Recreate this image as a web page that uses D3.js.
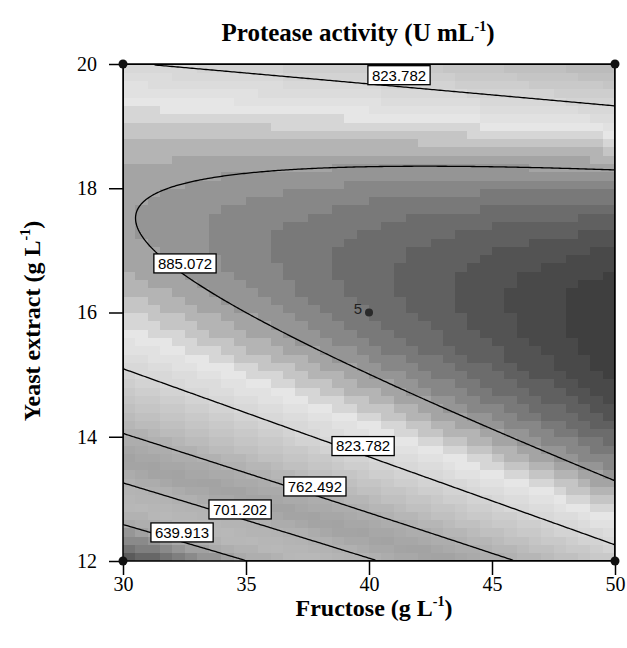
<!DOCTYPE html>
<html><head><meta charset="utf-8">
<script src="https://cdn.jsdelivr.net/npm/d3@7/dist/d3.min.js"></script>
<style>html,body{margin:0;padding:0;background:#fff}svg{display:block}</style>
</head><body>
<svg id="chart" width="627" height="648"></svg>
<script>
// ---------------- data ----------------
const fructoseRange = [30, 50];
const yeastRange = [12, 20];
const xTickValues = [30, 35, 40, 45, 50];
const yTickValues = [12, 14, 16, 18, 20];
const codedCenter = [40, 16];
const codedStep = [10, 4];
// quadratic response-surface model in coded units: intercept, F, Y, F^2, Y^2, F*Y
const modelCoefficients = [908.0, 43.3, 53.4, -5.0, -157.6, -69.7];
const contourLevels = [639.913, 701.202, 762.492, 823.782, 885.072];
const labelTexts = ["639.913", "701.202", "762.492", "823.782", "823.782", "885.072"];
const labelFructose = [32.4, 34.76, 37.8, 39.76, 41.22, 32.52];
const labelYeast = [12.46, 12.83, 13.2, 13.85, 19.82, 16.79];
const designFructose = [40];
const designYeast = [16];
const designLabels = ["5"];
// grey ramp (fraction of response range -> grey level)
const grayT = [0, 0.08, 0.17, 0.25, 0.33, 0.42, 0.5, 0.67, 0.74, 0.83, 0.89, 0.95, 1];
const grayV = [72, 120, 168, 185, 178, 162, 175, 214, 230, 158, 118, 82, 58];

// ---------------- chart ----------------
const svg = d3.select("#chart");
const m = {left: 123, right: 615, top: 64, bottom: 561};
const x = d3.scaleLinear().domain(fructoseRange).range([m.left, m.right]);
const y = d3.scaleLinear().domain(yeastRange).range([m.bottom, m.top]);

function response(F, Y) {
  const a = (F - codedCenter[0]) / codedStep[0], b = (Y - codedCenter[1]) / codedStep[1];
  const c = modelCoefficients;
  return c[0] + c[1]*a + c[2]*b + c[3]*a*a + c[4]*b*b + c[5]*a*b;
}
const lvStep = contourLevels[1] - contourLevels[0];
const zMin = contourLevels[0] - lvStep, zMax = contourLevels[contourLevels.length - 1] + lvStep;
const gray = d3.scaleLinear().domain(grayT).range(grayV).clamp(true);
const nBins = 48;
function shade(z) {
  let t = (z - zMin) / (zMax - zMin);
  t = Math.max(0, Math.min(0.9999, t));
  const q = (Math.floor(t * nBins) + 0.5) / nBins;
  const g = Math.round(gray(q));
  return d3.rgb(g, g, g).toString();
}

svg.append("defs").append("clipPath").attr("id", "plotclip")
  .append("rect").attr("x", m.left).attr("y", m.top)
  .attr("width", m.right - m.left).attr("height", m.bottom - m.top);

// filled surface (blocky cells)
const nx = 40, ny = 60;
const dF = (fructoseRange[1] - fructoseRange[0]) / nx;
const dY = (yeastRange[1] - yeastRange[0]) / ny;
const cells = [];
for (let j = 0; j < ny; j++) for (let i = 0; i < nx; i++) {
  const F0 = fructoseRange[0] + i * dF, Y0 = yeastRange[0] + j * dY;
  cells.push({F0, F1: F0 + dF, Y0, Y1: Y0 + dY, z: response(F0 + dF / 2, Y0 + dY / 2)});
}
svg.append("g").attr("clip-path", "url(#plotclip)").attr("shape-rendering", "crispEdges")
  .selectAll("rect").data(cells).join("rect")
  .attr("x", d => x(d.F0)).attr("y", d => y(d.Y1))
  .attr("width", d => x(d.F1) - x(d.F0) + 0.6)
  .attr("height", d => y(d.Y0) - y(d.Y1) + 0.6)
  .attr("fill", d => shade(d.z));

// contour lines
const gx = 246, gy = 250;
const vals = new Array(gx * gy);
for (let j = 0; j < gy; j++) for (let i = 0; i < gx; i++) {
  const F = x.invert(m.left + (i + 0.5) * (m.right - m.left) / gx);
  const Y = y.invert(m.top + (j + 0.5) * (m.bottom - m.top) / gy);
  vals[j * gx + i] = response(F, Y);
}
const contours = d3.contours().size([gx, gy]).thresholds(contourLevels)(vals);
const proj = d3.geoTransform({point(px, py) {
  this.stream.point(m.left + px * (m.right - m.left) / gx, m.top + py * (m.bottom - m.top) / gy);
}});
svg.append("g").attr("clip-path", "url(#plotclip)")
  .selectAll("path").data(contours).join("path")
  .attr("d", d3.geoPath(proj)).attr("fill", "none")
  .attr("stroke", "#000").attr("stroke-width", 1.3);

// frame
svg.append("rect").attr("x", m.left).attr("y", m.top)
  .attr("width", m.right - m.left).attr("height", m.bottom - m.top)
  .attr("fill", "none").attr("stroke", "#000").attr("stroke-width", 1.5);

// axes
const xAxis = d3.axisBottom(x).tickValues(xTickValues).tickSize(14).tickPadding(2).tickFormat(d3.format("d"));
const yAxis = d3.axisLeft(y).tickValues(yTickValues).tickSize(14).tickPadding(12).tickFormat(d3.format("d"));
function styleAxis(g) {
  g.select(".domain").remove();
  g.selectAll(".tick line").attr("stroke", "#000").attr("stroke-width", 1.5);
  g.selectAll(".tick text").attr("fill", "#000")
    .attr("font-family", "'Liberation Serif','Times New Roman',serif").attr("font-size", 20);
}
svg.append("g").attr("transform", `translate(0,${m.bottom})`).call(xAxis).call(styleAxis);
svg.append("g").attr("transform", `translate(${m.left},0)`).call(yAxis).call(styleAxis);

// corner dots
const corners = [[fructoseRange[0], yeastRange[0]], [fructoseRange[1], yeastRange[0]],
                 [fructoseRange[0], yeastRange[1]], [fructoseRange[1], yeastRange[1]]];
svg.append("g").selectAll("circle").data(corners).join("circle")
  .attr("cx", d => x(d[0])).attr("cy", d => y(d[1])).attr("r", 4.5).attr("fill", "#111");

// contour labels
const lg = svg.append("g").attr("font-family", "'Liberation Sans',Arial,sans-serif").attr("font-size", 15);
labelTexts.forEach((t, k) => {
  const g = lg.append("g").attr("transform", `translate(${x(labelFructose[k])},${y(labelYeast[k])})`);
  const txt = g.append("text").attr("text-anchor", "middle").attr("dy", "0.36em").attr("fill", "#000").text(t);
  const bb = txt.node().getBBox();
  g.insert("rect", "text").attr("x", bb.x - 4).attr("y", -9.5)
    .attr("width", bb.width + 8).attr("height", 19)
    .attr("fill", "#fff").attr("stroke", "#000").attr("stroke-width", 1.3);
});

// design point
designFructose.forEach((F, k) => {
  const cx = x(F), cy = y(designYeast[k]);
  svg.append("circle").attr("cx", cx).attr("cy", cy).attr("r", 4).attr("fill", "#2a2a2a");
  svg.append("text").attr("x", cx - 7).attr("y", cy + 1).attr("text-anchor", "end")
    .attr("font-family", "'Liberation Sans',Arial,sans-serif").attr("font-size", 15)
    .attr("fill", "#222").text(designLabels[k]);
});

// titles
function supText(sel, main, sup, tail) {
  sel.append("tspan").text(main);
  sel.append("tspan").attr("font-size", 14).attr("dy", -10).text(sup);
  sel.append("tspan").attr("dy", 10).text(tail);
}
const serifBold = "'Liberation Serif','Times New Roman',serif";
svg.append("text").attr("x", 358).attr("y", 41).attr("text-anchor", "middle")
  .attr("font-family", serifBold).attr("font-weight", "bold").attr("font-size", 25)
  .call(supText, "Protease activity (U mL", "-1", ")");
svg.append("text").attr("x", 374).attr("y", 616).attr("text-anchor", "middle")
  .attr("font-family", serifBold).attr("font-weight", "bold").attr("font-size", 24)
  .call(supText, "Fructose (g L", "-1", ")");
svg.append("text").attr("transform", "translate(40,321) rotate(-90)").attr("text-anchor", "middle")
  .attr("font-family", serifBold).attr("font-weight", "bold").attr("font-size", 24)
  .call(supText, "Yeast extract (g L", "-1", ")");
</script>
</body></html>
